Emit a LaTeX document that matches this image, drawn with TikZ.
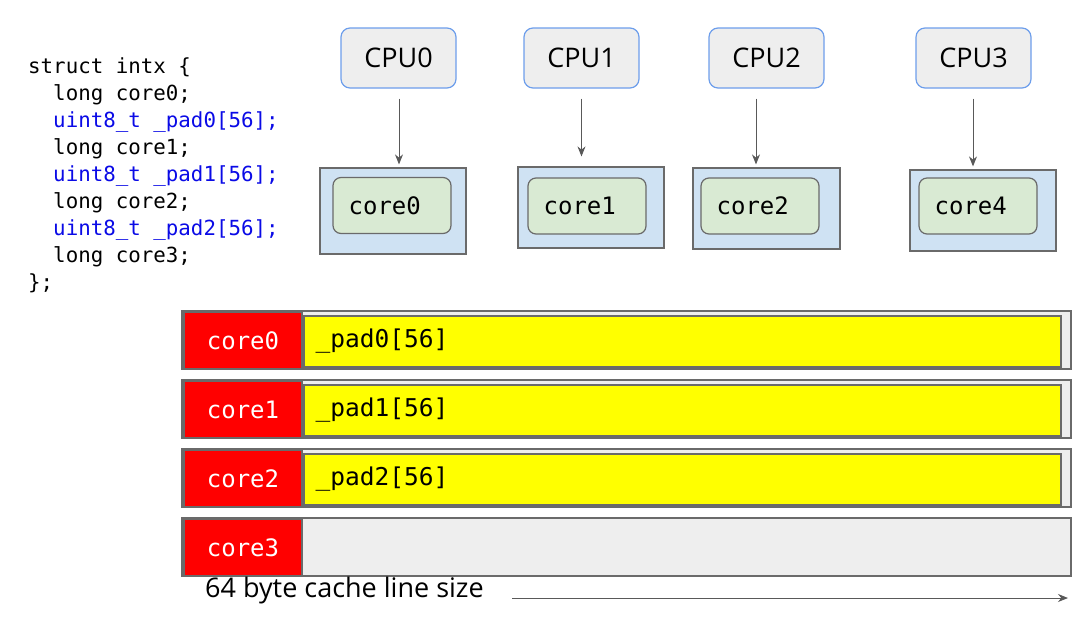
\documentclass[tikz,border=0pt]{standalone}
\usepackage{fontspec}
\setmainfont{Open Sans}
\setmonofont{DejaVu Sans Mono}
\usetikzlibrary{arrows.meta}
\definecolor{cpuBlue}{HTML}{6D9EEB}
\definecolor{cpuFill}{HTML}{EEEEEE}
\definecolor{blueFill}{HTML}{CFE2F3}
\definecolor{greenFill}{HTML}{D9EAD3}
\definecolor{borderGray}{HTML}{6A6A6A}
\definecolor{codeBlue}{RGB}{10,10,230}
\definecolor{arrGray}{HTML}{595959}
\definecolor{padYellow}{HTML}{FFFF00}
\definecolor{cellRed}{HTML}{FF0000}
\tikzset{
  cpubox/.style={draw=cpuBlue, fill=cpuFill, rounded corners=9pt, line width=1.2pt,
    minimum width=115pt, minimum height=60pt, inner sep=0pt, font=\fontsize{27}{30}\selectfont},
  bluebox/.style={draw=borderGray, fill=blueFill, line width=1.2pt, inner sep=0pt,
    minimum width=146pt},
  greenbox/.style={draw=borderGray, fill=greenFill, rounded corners=8pt, line width=1.2pt,
    inner sep=0pt, minimum width=118pt, minimum height=56pt},
  corelabel/.style={font=\ttfamily\fontsize{24}{28}\selectfont, anchor=west, inner sep=0pt},
  rowbox/.style={draw=borderGray, fill=cpuFill, line width=1.2pt, inner sep=0pt,
    minimum width=889pt, minimum height=58pt},
  redbox/.style={draw=borderGray, fill=cellRed, line width=1.2pt, inner sep=0pt,
    minimum width=118pt, minimum height=57pt, text=white, font=\ttfamily\fontsize{24}{28}\selectfont},
  yellowbox/.style={draw=borderGray, fill=padYellow, line width=1.2pt, inner sep=0pt,
    minimum width=757pt, minimum height=51pt},
  padlabel/.style={font=\ttfamily\fontsize{24.5}{28}\selectfont, anchor=west, inner sep=0pt},
  codeline/.style={font=\ttfamily\fontsize{20.8}{27}\selectfont, anchor=base west, inner sep=0pt},
  arr/.style={draw=arrGray, line width=1pt, -{Stealth[length=10pt,width=8pt]}},
}
\begin{document}
\begin{tikzpicture}[x=1pt,y=-1pt]
\useasboundingbox (0,0) rectangle (1092,622);
% code
\node[codeline] (c1) at (28,73) {struct intx \{};
\node[codeline] (c2) at (28,100) {\phantom{xx}long core0;};
\node[codeline, text=codeBlue] (c3) at (28,127) {\phantom{xx}uint8\_t \_pad0[56];};
\node[codeline] (c4) at (28,154) {\phantom{xx}long core1;};
\node[codeline, text=codeBlue] (c5) at (28,181) {\phantom{xx}uint8\_t \_pad1[56];};
\node[codeline] (c6) at (28,208) {\phantom{xx}long core2;};
\node[codeline, text=codeBlue] (c7) at (28,235) {\phantom{xx}uint8\_t \_pad2[56];};
\node[codeline] (c8) at (28,262) {\phantom{xx}long core3;};
\node[codeline] (c9) at (28,289) {\};};
% CPUs
\node[cpubox] (cpu0) at (398.5,58) {CPU0};
\node[cpubox] (cpu1) at (581.5,58) {CPU1};
\node[cpubox] (cpu2) at (766.5,58) {CPU2};
\node[cpubox] (cpu3) at (973.5,58) {CPU3};
% core boxes
\node[bluebox, minimum height=86pt] (b0) at (393,211) {};
\node[bluebox, minimum height=81pt] (b1) at (591,207.5) {};
\node[bluebox, minimum height=81pt, minimum width=147pt] (b2) at (766.5,208.5) {};
\node[bluebox, minimum height=81pt] (b3) at (983,210.5) {};
\node[greenbox] (g0) at (392,205.5) {};
\node[greenbox] (g1) at (587,206) {};
\node[greenbox] (g2) at (760,206) {};
\node[greenbox] (g3) at (978,206) {};
\node[corelabel] (t0) at ([xshift=16pt]g0.west) {core0};
\node[corelabel] (t1) at ([xshift=16pt]g1.west) {core1};
\node[corelabel] (t2) at ([xshift=16pt]g2.west) {core2};
\node[corelabel] (t3) at ([xshift=16pt]g3.west) {core4};
% arrows
\draw[arr] ([xshift=0.5pt,yshift=-10pt]cpu0.south) -- ([xshift=0.5pt,yshift=3pt]cpu0.south |- b0.north);
\draw[arr] ([yshift=-10pt]cpu1.south) -- ([yshift=10pt]cpu1.south |- b1.north);
\draw[arr] ([xshift=-10.5pt,yshift=-10pt]cpu2.south) -- ([xshift=-10.5pt,yshift=3pt]cpu2.south |- b2.north);
\draw[arr] ([xshift=-0.5pt,yshift=-10pt]cpu3.south) -- ([xshift=-0.5pt,yshift=3pt]cpu3.south |- b3.north);
% cache lines
\foreach \i/\y in {0/340,1/409,2/478,3/547}{
  \node[rowbox] (row\i) at (626.5,\y) {};
  \node[redbox] (red\i) at (243,\y+0.5) {core\i};
}
\foreach \i/\y in {0/340,1/409,2/478}{
  \node[yellowbox] (yel\i) at (682.5,\y+1.5) {};
  \node[padlabel] (pad\i) at ([xshift=12pt]yel\i.west) {\_pad\i[56]};
}
% bottom
\node[anchor=west, inner sep=0pt, font=\fontsize{27}{30}\selectfont] (size) at (205,590) {64 byte cache line size};
\coordinate (a1) at (512,598);
\coordinate (a2) at (1068,598);
\draw[arr] (a1) -- (a2);
\end{tikzpicture}
\end{document}
